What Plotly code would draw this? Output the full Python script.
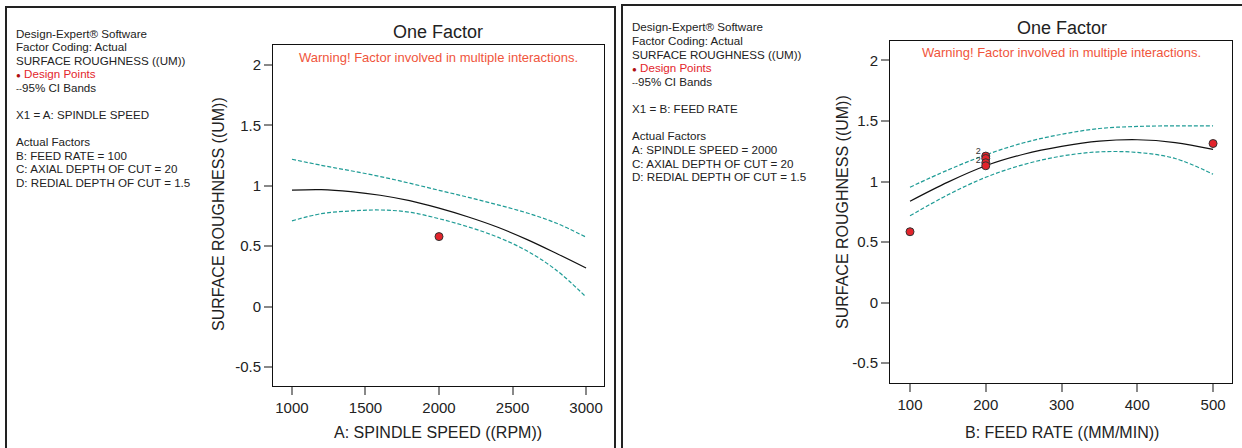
import plotly.graph_objects as go

# ---------------- data ----------------
spindle_speed = [1000, 1200, 1400, 1600, 1800, 2000, 2200, 2400, 2600, 2800, 3000]
rough_a_mean = [0.964, 0.968, 0.952, 0.922, 0.877, 0.815, 0.742, 0.657, 0.555, 0.44, 0.32]
rough_a_upper = [1.22, 1.17, 1.125, 1.077, 1.022, 0.963, 0.905, 0.843, 0.775, 0.69, 0.575]
rough_a_lower = [0.71, 0.77, 0.792, 0.80, 0.782, 0.728, 0.66, 0.575, 0.46, 0.30, 0.08]
design_a_x = [2000]
design_a_y = [0.58]

feed_rate = [100, 150, 200, 250, 300, 350, 400, 450, 500]
rough_b_mean = [0.837, 0.995, 1.13, 1.225, 1.29, 1.333, 1.345, 1.322, 1.265]
rough_b_upper = [0.953, 1.095, 1.22, 1.32, 1.39, 1.438, 1.455, 1.46, 1.46]
rough_b_lower = [0.717, 0.89, 1.035, 1.14, 1.21, 1.245, 1.24, 1.19, 1.06]
design_b_x = [100, 200, 200, 200, 200, 500]
design_b_y = [0.585, 1.21, 1.19, 1.155, 1.13, 1.314]
count_b_x = [190, 190]
count_b_y = [1.245, 1.172]
count_b_text = ["2", "2"]

y_ticks = [-0.5, 0, 0.5, 1, 1.5, 2]
y_ticktext = ["-0.5", "0", "0.5", "1", "1.5", "2"]
a_ticks = [1000, 1500, 2000, 2500, 3000]
b_ticks = [100, 200, 300, 400, 500]

left_lines = [
    "Design-Expert® Software",
    "Factor Coding: Actual",
    "SURFACE ROUGHNESS ((UM))",
    "DP",
    "CI",
    "",
    "X1 = A: SPINDLE SPEED",
    "",
    "Actual Factors",
    "B: FEED RATE = 100",
    "C: AXIAL DEPTH OF CUT = 20",
    "D: REDIAL DEPTH OF CUT = 1.5",
]
right_lines = [
    "Design-Expert® Software",
    "Factor Coding: Actual",
    "SURFACE ROUGHNESS ((UM))",
    "DP",
    "CI",
    "",
    "X1 = B: FEED RATE",
    "",
    "Actual Factors",
    "A: SPINDLE SPEED = 2000",
    "C: AXIAL DEPTH OF CUT = 20",
    "D: REDIAL DEPTH OF CUT = 1.5",
]

# ---------------- styling ----------------
W, H = 1242, 448
FONT = "Liberation Sans, Arial, sans-serif"
TEAL = "#1f9c96"
RED = "#e3242b"
WARN = "#f0553c"
TXT = "#222222"
SMOOTH = 1.0


def px(x):
    return x / W


def py(y):
    return 1 - y / H


fig = go.Figure()

ci_line = dict(color=TEAL, width=1.2, dash="4px,2px", shape="spline", smoothing=SMOOTH)
mean_line = dict(color="#111111", width=1.2, shape="spline", smoothing=SMOOTH)
dp_marker = dict(color=RED, size=8, line=dict(color="#333333", width=1))

# left panel traces
fig.add_trace(go.Scatter(x=spindle_speed, y=rough_a_upper, mode="lines", line=ci_line, xaxis="x", yaxis="y"))
fig.add_trace(go.Scatter(x=spindle_speed, y=rough_a_lower, mode="lines", line=ci_line, xaxis="x", yaxis="y"))
fig.add_trace(go.Scatter(x=spindle_speed, y=rough_a_mean, mode="lines", line=mean_line, xaxis="x", yaxis="y"))
fig.add_trace(go.Scatter(x=design_a_x, y=design_a_y, mode="markers", marker=dp_marker, xaxis="x", yaxis="y"))

# right panel traces
fig.add_trace(go.Scatter(x=feed_rate, y=rough_b_upper, mode="lines", line=ci_line, xaxis="x2", yaxis="y2"))
fig.add_trace(go.Scatter(x=feed_rate, y=rough_b_lower, mode="lines", line=ci_line, xaxis="x2", yaxis="y2"))
fig.add_trace(go.Scatter(x=feed_rate, y=rough_b_mean, mode="lines", line=mean_line, xaxis="x2", yaxis="y2"))
fig.add_trace(go.Scatter(x=design_b_x, y=design_b_y, mode="markers", marker=dp_marker, xaxis="x2", yaxis="y2"))
fig.add_trace(go.Scatter(x=count_b_x, y=count_b_y, mode="text", text=count_b_text, textfont=dict(family=FONT, size=9, color="#333333"), xaxis="x2", yaxis="y2"))

axis_common = dict(
    showline=True, linecolor="#111111", linewidth=1, mirror=True,
    ticks="outside", ticklen=8, tickwidth=1.5, tickcolor="#888888",
    showgrid=False, zeroline=False,
    tickfont=dict(family=FONT, size=15, color=TXT),
    fixedrange=True,
)

fig.update_layout(
    width=W, height=H,
    margin=dict(l=0, r=0, t=0, b=0),
    paper_bgcolor="white", plot_bgcolor="white",
    showlegend=False,
    xaxis=dict(domain=[px(273), px(604)], range=[871, 3122], tickvals=a_ticks, anchor="y", **axis_common),
    yaxis=dict(domain=[py(386), py(45)], range=[-0.657, 2.166], tickvals=y_ticks, ticktext=y_ticktext, anchor="x", **axis_common),
    xaxis2=dict(domain=[px(890), px(1232)], range=[73.6, 525], tickvals=b_ticks, anchor="y2", **axis_common),
    yaxis2=dict(domain=[py(383), py(41)], range=[-0.665, 2.161], tickvals=y_ticks, ticktext=y_ticktext, anchor="x2", **axis_common),
)

# panel frames
fig.add_shape(type="rect", xref="paper", yref="paper", x0=px(6), x1=px(615), y0=-0.1, y1=py(7), line=dict(color="#222222", width=2))
fig.add_shape(type="rect", xref="paper", yref="paper", x0=px(622), x1=1.1, y0=-0.1, y1=py(5), line=dict(color="#222222", width=2))

ann = []


def add_text(x, y, text, size, color=TXT, xanchor="center", textangle=0):
    ann.append(dict(xref="paper", yref="paper", x=px(x), y=py(y), text=text, showarrow=False,
                    xanchor=xanchor, yanchor="middle", textangle=textangle,
                    font=dict(family=FONT, size=size, color=color)))


def info_block(x0, y0, lines):
    for i, line in enumerate(lines):
        if not line:
            continue
        if line == "DP":
            t = "<span style='font-size:8px;color:#b01010'>●</span> <span style='color:%s'>Design Points</span>" % RED
        elif line == "CI":
            t = "<span style='font-size:9px'>--</span>95% CI Bands"
        else:
            t = line
        add_text(x0, y0 + i * 13.6, t, 11.6, xanchor="left")


info_block(14, 33, left_lines)
info_block(630, 27, right_lines)

# titles
add_text(438, 32, "One Factor", 18)
add_text(1062, 28, "One Factor", 18)
add_text(438, 58, "Warning! Factor involved in multiple interactions.", 13, color=WARN)
add_text(1061, 53, "Warning! Factor involved in multiple interactions.", 13, color=WARN)

# axis titles
add_text(438, 432, "A: SPINDLE SPEED ((RPM))", 16)
add_text(1062, 432, "B: FEED RATE ((MM/MIN))", 16)
add_text(218, 214, "SURFACE ROUGHNESS ((UM))", 16, textangle=-90)
add_text(842, 212, "SURFACE ROUGHNESS ((UM))", 16, textangle=-90)

fig.update_layout(annotations=ann)

fig.write_html("out.html")
